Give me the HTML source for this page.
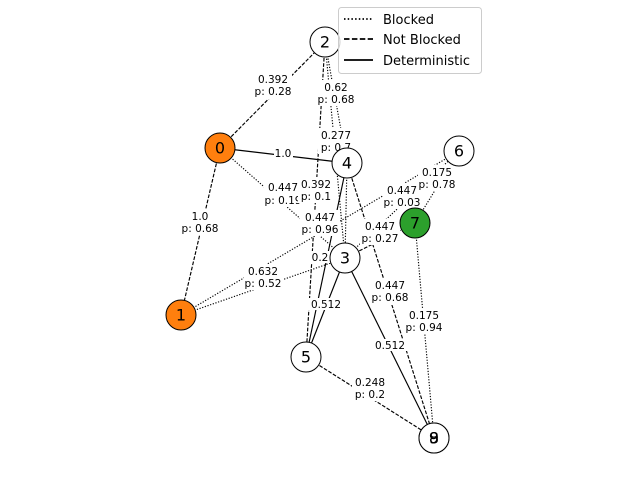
<!DOCTYPE html>
<html><head><meta charset="utf-8"><style>
html,body{margin:0;padding:0;background:#fff;}
svg{display:block;font-family:"DejaVu Sans","Liberation Sans",sans-serif;}
.e{stroke:#000;stroke-width:1.15;fill:none;}
.dot{stroke-dasharray:1.2 1.6;}
.dash{stroke-dasharray:3.7 1.6;}
.lb{font-size:10.5px;text-anchor:middle;fill:#000;}
.nt{font-size:16px;text-anchor:middle;dominant-baseline:central;}
</style></head><body>
<svg width="640" height="480" viewBox="0 0 640 480">
<rect width="640" height="480" fill="#fff"/>
<line class="e dash" x1="220" y1="148" x2="325" y2="42"/>
<line class="e" x1="220" y1="148" x2="347" y2="163"/>
<line class="e dash" x1="220" y1="148" x2="181" y2="315"/>
<line class="e dot" x1="220" y1="148" x2="345" y2="258"/>
<line class="e dot" x1="325" y1="42" x2="347" y2="163"/>
<line class="e dot" x1="325" y1="42" x2="345" y2="258"/>
<line class="e dash" x1="325" y1="42" x2="306" y2="357"/>
<line class="e dot" x1="181" y1="315" x2="459" y2="151"/>
<line class="e dot" x1="181" y1="315" x2="345" y2="258"/>
<line class="e" x1="347" y1="163" x2="306" y2="357"/>
<line class="e dot" x1="347" y1="163" x2="345" y2="258"/>
<line class="e dash" x1="347" y1="163" x2="434" y2="438"/>
<line class="e" x1="345" y1="258" x2="306" y2="357"/>
<line class="e" x1="345" y1="258" x2="434" y2="438"/>
<line class="e dot" x1="345" y1="258" x2="459" y2="151"/>
<line class="e dash" x1="345" y1="258" x2="415" y2="223"/>
<line class="e dot" x1="459" y1="151" x2="415" y2="223"/>
<line class="e dot" x1="415" y1="223" x2="434" y2="438"/>
<line class="e dash" x1="306" y1="357" x2="434" y2="438"/>
<g class="lb">
<g><rect x="255" y="73" width="37" height="26" fill="#fff"/><text x="273" y="83">0.392</text><text x="273" y="95">p: 0.28</text></g>
<g><rect x="274" y="147" width="19" height="12" fill="#fff"/><text x="283" y="157">1.0</text></g>
<g><rect x="181" y="209" width="40" height="26" fill="#fff"/><text x="200" y="220">1.0</text><text x="200" y="232">p: 0.68</text></g>
<g><rect x="264" y="181" width="40" height="26" fill="#fff"/><text x="283" y="191">0.447</text><text x="283" y="204">p: 0.19</text></g>
<g><rect x="317" y="80" width="40" height="26" fill="#fff"/><text x="336" y="91">0.62</text><text x="336" y="103">p: 0.68</text></g>
<g><rect x="318" y="128" width="36" height="26" fill="#fff"/><text x="336" y="139">0.277</text><text x="336" y="151">p: 0.7</text></g>
<g><rect x="298" y="177" width="36" height="26" fill="#fff"/><text x="316" y="188">0.392</text><text x="316" y="200">p: 0.1</text></g>
<g><rect x="300" y="210" width="40" height="26" fill="#fff"/><text x="320" y="221">0.447</text><text x="320" y="233">p: 0.96</text></g>
<g><rect x="244" y="264" width="40" height="26" fill="#fff"/><text x="263" y="275">0.632</text><text x="263" y="287">p: 0.52</text></g>
<g><rect x="310" y="251" width="20" height="12" fill="#fff"/><text x="320" y="261">0.2</text></g>
<g><rect x="308" y="298" width="36" height="12" fill="#fff"/><text x="326" y="308">0.512</text></g>
<g><rect x="372" y="339" width="36" height="12" fill="#fff"/><text x="390" y="349">0.512</text></g>
<g><rect x="371" y="279" width="40" height="26" fill="#fff"/><text x="390" y="289">0.447</text><text x="390" y="301">p: 0.68</text></g>
<g><rect x="383" y="183" width="40" height="26" fill="#fff"/><text x="402" y="194">0.447</text><text x="402" y="206">p: 0.03</text></g>
<g><rect x="360" y="219" width="40" height="26" fill="#fff"/><text x="380" y="230">0.447</text><text x="380" y="242">p: 0.27</text></g>
<g><rect x="418" y="165" width="40" height="26" fill="#fff"/><text x="437" y="176">0.175</text><text x="437" y="188">p: 0.78</text></g>
<g><rect x="405" y="308" width="40" height="26" fill="#fff"/><text x="424" y="319">0.175</text><text x="424" y="331">p: 0.94</text></g>
<g><rect x="352" y="375" width="36" height="26" fill="#fff"/><text x="370" y="386">0.248</text><text x="370" y="398">p: 0.2</text></g>
</g>
<g stroke="#000" stroke-width="1">
<circle cx="220" cy="148" r="15" fill="#ff7f0e"/>
<circle cx="181" cy="315" r="15" fill="#ff7f0e"/>
<circle cx="325" cy="42" r="15" fill="#fff"/>
<circle cx="345" cy="258" r="15" fill="#fff"/>
<circle cx="347" cy="163" r="15" fill="#fff"/>
<circle cx="306" cy="357" r="15" fill="#fff"/>
<circle cx="459" cy="151" r="15" fill="#fff"/>
<circle cx="415" cy="223" r="15" fill="#2ca02c"/>
<circle cx="434" cy="438" r="15" fill="#fff"/>
<circle cx="434" cy="438" r="15" fill="#fff"/>
</g>
<g class="nt">
<text x="220" y="148">0</text>
<text x="181" y="315">1</text>
<text x="325" y="42">2</text>
<text x="345" y="258">3</text>
<text x="347" y="163">4</text>
<text x="306" y="357">5</text>
<text x="459" y="151">6</text>
<text x="415" y="223">7</text>
<text x="434" y="438">8</text>
<text x="434" y="438">9</text>
</g>
<rect x="338.5" y="7.5" width="143" height="66" rx="3" fill="#fff" fill-opacity="0.8" stroke="#ccc"/>
<line x1="344" y1="19" x2="373" y2="19" stroke="#000" stroke-width="1.7" stroke-dasharray="1.5 2.2"/>
<line x1="344" y1="39" x2="373" y2="39" stroke="#000" stroke-width="1.7" stroke-dasharray="5.5 2.4"/>
<line x1="344" y1="60" x2="373" y2="60" stroke="#000" stroke-width="1.7"/>
<g font-size="13px">
<text x="383" y="24">Blocked</text>
<text x="383" y="44">Not Blocked</text>
<text x="383" y="65">Deterministic</text>
</g>
</svg>
</body></html>
